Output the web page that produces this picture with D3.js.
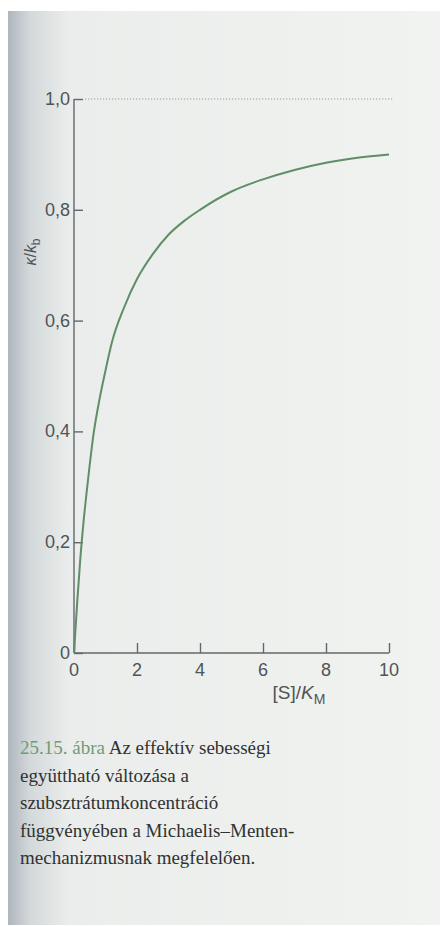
<!DOCTYPE html>
<html>
<head>
<meta charset="utf-8">
<script src="https://cdn.jsdelivr.net/npm/d3@7"></script>
<style>
  html, body { margin: 0; padding: 0; background: #fff; }
  svg { display: block; }
</style>
</head>
<body>
<div id="chart"></div>
<script>
// values
const sValues = [0, 0.1, 0.2, 0.3, 0.45, 0.62, 0.8, 1, 1.2, 1.6, 2, 2.5, 3, 3.5, 4, 5, 6, 7, 8, 9, 10];
const kValues = [0, 0.09, 0.17, 0.235, 0.315, 0.395, 0.455, 0.51, 0.56, 0.625, 0.675, 0.72, 0.755, 0.78, 0.8, 0.833, 0.855, 0.872, 0.885, 0.894, 0.9];
const xTicks = [0, 2, 4, 6, 8, 10];
const yTicks = [0, 0.2, 0.4, 0.6, 0.8, 1.0];
const yTickLabels = ["0", "0,2", "0,4", "0,6", "0,8", "1,0"];
const captionLines = [
    "Az effektív sebességi",
    "együttható változása a",
    "szubsztrátumkoncentráció",
    "függvényében a Michaelis–Menten-",
    "mechanizmusnak megfelelően."
];
const captionTag = "25.15. ábra";

const W = 444, H = 926;
const svg = d3.select("#chart").append("svg")
    .attr("width", W)
    .attr("height", H);

// scanned page background with shadow on the binding side
const defs = svg.append("defs");
const grad = defs.append("linearGradient").attr("id", "page").attr("x1", 0).attr("x2", 1);
grad.append("stop").attr("offset", "0").attr("stop-color", "#aeb6bd");
grad.append("stop").attr("offset", "0.05").attr("stop-color", "#d3d8da");
grad.append("stop").attr("offset", "0.14").attr("stop-color", "#eaedeb");
grad.append("stop").attr("offset", "1").attr("stop-color", "#f1f3f0");
svg.append("rect")
    .attr("x", 8).attr("y", 11)
    .attr("width", 432).attr("height", 914)
    .attr("fill", "url(#page)");

const x = d3.scaleLinear().domain([0, 10]).range([74, 389]);
const y = d3.scaleLinear().domain([0, 1]).range([653, 99]);

const axisColor = "#63676a";
const labelColor = "#505456";

// y axis (ticks pointing inward)
const yAxis = svg.append("g")
    .attr("transform", `translate(${x(0)},0)`)
    .call(d3.axisRight(y).tickValues(yTicks).tickSize(9).tickFormat(""));
yAxis.select(".domain").attr("stroke", axisColor).attr("stroke-width", 1.4)
    .attr("d", `M0,${y(1)}V${y(0)}`);
yAxis.selectAll(".tick line").attr("stroke", axisColor).attr("stroke-width", 1.4);

svg.append("g").selectAll("text")
    .data(yTicks)
    .join("text")
    .attr("x", x(0) - 4)
    .attr("y", d => y(d) + 6)
    .attr("text-anchor", "end")
    .attr("font-family", "Liberation Sans, Arial, sans-serif")
    .attr("font-size", 18)
    .attr("fill", labelColor)
    .text((d, i) => yTickLabels[i]);

// x axis (ticks pointing inward)
const xAxis = svg.append("g")
    .attr("transform", `translate(0,${y(0)})`)
    .call(d3.axisTop(x).tickValues(xTicks).tickSize(10).tickFormat(""));
xAxis.select(".domain").attr("stroke", axisColor).attr("stroke-width", 1.4)
    .attr("d", `M${x(0)},0H${x(10)}`);
xAxis.selectAll(".tick line").attr("stroke", axisColor).attr("stroke-width", 1.4);

svg.append("g").selectAll("text")
    .data(xTicks)
    .join("text")
    .attr("x", d => x(d))
    .attr("y", y(0) + 23)
    .attr("text-anchor", "middle")
    .attr("font-family", "Liberation Sans, Arial, sans-serif")
    .attr("font-size", 18)
    .attr("fill", labelColor)
    .text(d => d);

// asymptote at 1,0
svg.append("line")
    .attr("x1", x(0) + 11).attr("x2", x(10) + 4)
    .attr("y1", y(1)).attr("y2", y(1))
    .attr("stroke", "#9a9e9f")
    .attr("stroke-width", 1.2)
    .attr("stroke-dasharray", "1.2,1.8");

// axis titles
const xTitle = svg.append("text")
    .attr("x", 299).attr("y", y(0) + 46)
    .attr("text-anchor", "middle")
    .attr("font-family", "Liberation Sans, Arial, sans-serif")
    .attr("font-size", 19)
    .attr("fill", labelColor);
xTitle.append("tspan").text("[S]/");
xTitle.append("tspan").attr("font-style", "italic").text("K");
xTitle.append("tspan").attr("font-size", 14).attr("dy", 5).text("M");

const yTitle = svg.append("text")
    .attr("transform", "translate(36,252) rotate(-90)")
    .attr("text-anchor", "middle")
    .attr("font-family", "Liberation Sans, Arial, sans-serif")
    .attr("font-size", 16)
    .attr("fill", labelColor);
yTitle.append("tspan").attr("font-style", "italic").text("κ");
yTitle.append("tspan").text("/");
yTitle.append("tspan").attr("font-style", "italic").text("k");
yTitle.append("tspan").attr("font-size", 12).attr("dy", 4).text("b");

// the curve
const line = d3.line()
    .x((d, i) => x(sValues[i]))
    .y(d => y(d))
    .curve(d3.curveMonotoneX);

svg.append("path")
    .datum(kValues)
    .attr("fill", "none")
    .attr("stroke", "#5f8e67")
    .attr("stroke-width", 2)
    .attr("d", line);

// caption
const cap = svg.append("g")
    .attr("font-family", "Liberation Serif, Times New Roman, serif")
    .attr("font-size", 19)
    .attr("fill", "#2f3232");

cap.selectAll("text")
    .data(captionLines)
    .join("text")
    .attr("x", 20)
    .attr("y", (d, i) => 754 + i * 27.5)
    .each(function (d, i) {
        const t = d3.select(this);
        if (i === 0) {
            t.append("tspan").attr("fill", "#6f9c76").text(captionTag + " ");
        }
        t.append("tspan").text(d);
    });
</script>
</body>
</html>
